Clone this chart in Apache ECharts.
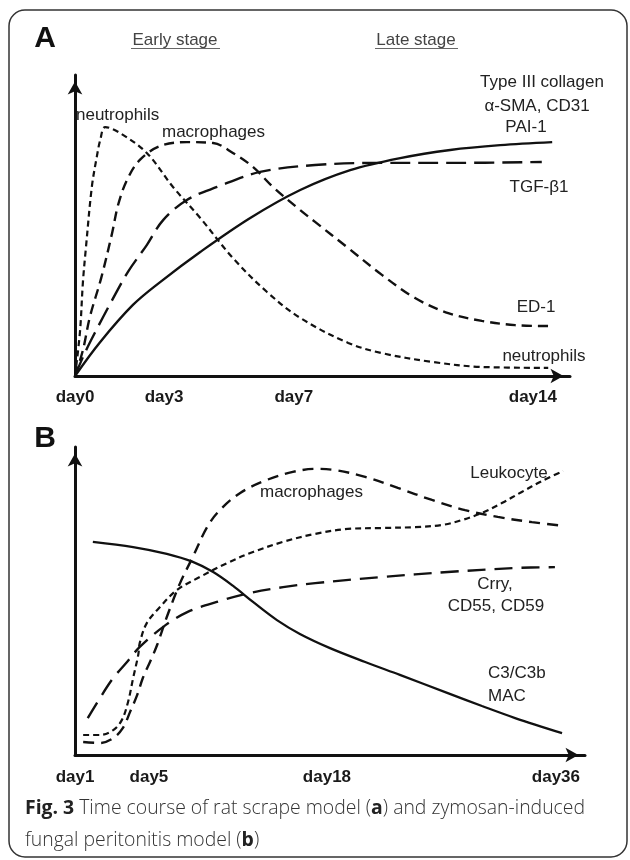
<!DOCTYPE html>
<html>
<head>
<meta charset="utf-8">
<script src="https://cdn.jsdelivr.net/npm/echarts@6/dist/echarts.min.js"></script>
<style>
  html, body { margin: 0; padding: 0; background: #fff; }
  #chart { width: 630px; height: 860px; }
</style>
</head>
<body>
<div id="chart"></div>
<script>
// ---- Panel A: rat scrape model (schematic units, x: time 0-100, y: level 0-100)
const aTickPos = [0, 18, 44.2, 92.5];
const aTickLabels = ['day0', 'day3', 'day7', 'day14'];

const aNeutrophilsX = [0, 1.0, 1.6, 2.2, 3.4, 4.4, 5.1, 6.1, 9.1, 14.5, 19.8, 25.3, 31.9, 38.8, 45.5, 55.2, 62.0, 72.1, 82.2, 95.6];
const aNeutrophilsY = [0, 14.6, 31.2, 42.5, 62.8, 72.8, 78.4, 82.7, 80.7, 74.1, 62.8, 52.5, 39.2, 27.9, 19.3, 11.0, 7.6, 4.7, 3.0, 2.7];

const aMacrophagesX = [0, 1.6, 3.0, 5.3, 7.5, 8.7, 10.5, 13.1, 17.2, 22.6, 27.9, 31.9, 36.0, 40.0, 45.5, 48.5, 55.2, 62.0, 68.7, 75.4, 82.2, 88.9, 95.6];
const aMacrophagesY = [0, 8.6, 19.6, 32.6, 47.5, 56.8, 65.1, 71.8, 76.4, 77.7, 77.4, 74.1, 69.4, 62.8, 55.1, 51.2, 42.5, 33.6, 25.9, 20.9, 18.3, 16.9, 16.6];

const aTgfX = [0, 1.8, 4.0, 7.5, 10.7, 14.5, 17.8, 22.6, 28.7, 37.4, 48.5, 62.0, 75.4, 94.3];
const aTgfY = [0, 7.0, 14.3, 25.2, 34.6, 43.5, 51.8, 58.5, 62.8, 67.8, 70.1, 70.8, 70.8, 71.1];

const aCollagenX = [0, 5.1, 11.7, 17.2, 25.3, 35.4, 45.5, 55.6, 65.7, 75.8, 85.9, 96.4];
const aCollagenY = [0, 11.3, 23.6, 31.2, 41.2, 52.5, 61.8, 68.4, 72.4, 75.1, 76.7, 77.7];

// ---- Panel B: zymosan-induced fungal peritonitis model
const bTickPos = [0, 14.5, 49.4, 94.3];
const bTickLabels = ['day1', 'day5', 'day18', 'day36'];

const bC3X = [3.5, 11.4, 18.0, 23.1, 27.1, 31.0, 34.9, 39.6, 44.1, 50.0, 56.9, 63.7, 73.1, 79.8, 86.3, 95.5];
const bC3Y = [69.2, 67.5, 65.3, 62.7, 59.4, 54.9, 49.7, 43.8, 39.3, 34.7, 30.2, 26.0, 20.1, 15.9, 12.0, 7.1];

const bMacrophagesX = [1.6, 4.9, 7.5, 9.4, 10.8, 12.2, 13.3, 14.7, 16.1, 18.0, 20.6, 23.1, 25.9, 28.4, 32.4, 37.6, 42.7, 47.1, 51.0, 56.9, 63.3, 70.0, 76.5, 82.9, 89.6, 95.7];
const bMacrophagesY = [4.2, 3.9, 5.5, 8.8, 14.0, 19.5, 25.0, 30.2, 35.7, 44.8, 55.8, 64.3, 74.0, 79.5, 85.1, 89.3, 91.9, 92.9, 92.5, 90.3, 86.7, 82.8, 79.5, 77.3, 75.6, 74.4];

const bLeukocyteX = [1.6, 4.9, 7.5, 9.2, 10.4, 11.4, 12.4, 12.7, 14.1, 16.7, 20.0, 24.5, 29.8, 34.9, 40.8, 47.1, 53.5, 60.2, 66.7, 72.0, 75.9, 79.8, 83.7, 87.6, 91.6, 95.7];
const bLeukocyteY = [6.5, 6.5, 8.1, 11.4, 17.2, 25.0, 32.5, 36.4, 42.9, 48.1, 53.6, 57.8, 62.3, 65.9, 69.2, 71.8, 73.4, 73.7, 74.0, 74.7, 76.3, 78.6, 81.8, 85.4, 89.0, 92.2];

const bCrryX = [2.5, 4.9, 7.5, 10.2, 12.7, 17.3, 22.0, 27.8, 34.3, 40.8, 47.1, 60.2, 73.1, 86.3, 94.1];
const bCrryY = [12.0, 18.5, 25.0, 30.2, 35.1, 41.6, 46.4, 49.7, 52.6, 54.5, 55.8, 57.8, 59.4, 60.7, 61.0];

const zip = (xs, ys) => xs.map((x, i) => [x, ys[i]]);

const chart = echarts.init(document.getElementById('chart'));

const labelFont = '17px "Liberation Sans", Arial, sans-serif';
const ink = '#111';

function xAxisFor(idx, pos, labels, margin) {
  return {
    type: 'value', gridIndex: idx, min: 0, max: 100,
    axisLine: {
      onZero: false,
      lineStyle: { color: ink, width: 3 },
      symbol: ['none', 'arrow'], symbolSize: [11, 13], symbolOffset: [0, -6.5]
    },
    axisTick: { show: false },
    splitLine: { show: false },
    axisLabel: {
      customValues: pos,
      formatter: v => labels[pos.indexOf(v)] || '',
      fontFamily: '"Liberation Sans", Arial, sans-serif',
      fontWeight: 'bold', fontSize: 17, color: '#1a1a1a', margin: margin
    }
  };
}

function yAxisFor(idx) {
  return {
    type: 'value', gridIndex: idx, min: 0, max: 100,
    axisLine: {
      show: true,
      lineStyle: { color: ink, width: 3 },
      symbol: ['none', 'arrow'], symbolSize: [11, 13], symbolOffset: [0, -6.5]
    },
    axisTick: { show: false },
    axisLabel: { show: false },
    splitLine: { show: false }
  };
}

function curve(name, data, idx, dash, width) {
  return {
    name: name, type: 'line', xAxisIndex: idx, yAxisIndex: idx,
    data: data, showSymbol: false, smooth: 0.35,
    silent: true,
    lineStyle: { color: ink, width: width || 2.4, type: dash, cap: 'butt' }
  };
}

function txt(x, y, text, align, extra) {
  return {
    type: 'text', x: x, y: y, silent: true,
    style: Object.assign({
      text: text, font: labelFont, fill: '#222',
      align: align || 'center', textAlign: align || 'center',
      verticalAlign: 'middle', textVerticalAlign: 'middle'
    }, extra || {})
  };
}

const capStyle = {
  font: '300 19.4px "Open Sans", sans-serif', fill: '#333',
  rich: { b: { fontFamily: '"Open Sans", sans-serif', fontWeight: 'bold', fontSize: 19.4, fill: '#222' } }
};

chart.setOption({
  animation: false,
  backgroundColor: '#fff',
  grid: [
    { left: 75, top: 75, width: 495, height: 301 },
    { left: 75, top: 447, width: 510, height: 308 }
  ],
  xAxis: [xAxisFor(0, aTickPos, aTickLabels, 13), xAxisFor(1, bTickPos, bTickLabels, 14)],
  yAxis: [yAxisFor(0), yAxisFor(1)],
  series: [
    curve('neutrophils', zip(aNeutrophilsX, aNeutrophilsY), 0, [6, 4], 2.2),
    curve('ED-1', zip(aMacrophagesX, aMacrophagesY), 0, [10, 6], 2.4),
    curve('TGF-β1', zip(aTgfX, aTgfY), 0, [20, 8], 2.4),
    curve('Type III collagen', zip(aCollagenX, aCollagenY), 0, 'solid', 2.4),
    curve('C3/C3b MAC', zip(bC3X, bC3Y), 1, 'solid', 2.3),
    curve('macrophages', zip(bMacrophagesX, bMacrophagesY), 1, [11, 7], 2.4),
    curve('Leukocyte', zip(bLeukocyteX, bLeukocyteY), 1, [6, 4], 2.2),
    curve('Crry', zip(bCrryX, bCrryY), 1, [18, 9], 2.4)
  ],
  graphic: [
    // frame
    { type: 'rect', silent: true, shape: { x: 9, y: 10, width: 618, height: 847, r: 16 },
      style: { fill: 'none', stroke: '#333', lineWidth: 1.5 } },
    // panel letters
    txt(45, 39, 'A', 'center', { font: 'bold 30px "Liberation Sans", Arial, sans-serif', fill: '#111' }),
    txt(45, 439, 'B', 'center', { font: 'bold 30px "Liberation Sans", Arial, sans-serif', fill: '#111' }),
    // stage headers
    txt(175, 40, 'Early stage', 'center', { fill: '#444' }),
    { type: 'line', silent: true, shape: { x1: 131, y1: 48.5, x2: 220, y2: 48.5 }, style: { stroke: '#666', lineWidth: 1 } },
    txt(416, 40, 'Late stage', 'center', { fill: '#444' }),
    { type: 'line', silent: true, shape: { x1: 375, y1: 48.5, x2: 458, y2: 48.5 }, style: { stroke: '#666', lineWidth: 1 } },
    // panel A annotations
    txt(76, 115, 'neutrophils', 'left'),
    txt(162, 132, 'macrophages', 'left'),
    txt(542, 82, 'Type III collagen'),
    txt(537, 106, 'α-SMA, CD31'),
    txt(526, 127, 'PAI-1'),
    txt(539, 187, 'TGF-β1'),
    txt(536, 307, 'ED-1'),
    txt(544, 356, 'neutrophils'),
    // panel B annotations
    txt(260, 492, 'macrophages', 'left'),
    txt(509, 473, 'Leukocyte'),
    txt(495, 584, 'Crry,'),
    txt(496, 606, 'CD55, CD59'),
    txt(488, 673, 'C3/C3b', 'left'),
    txt(488, 696, 'MAC', 'left'),
    // caption
    txt(25, 808, '{b|Fig. 3} Time course of rat scrape model ({b|a}) and zymosan-induced', 'left', capStyle),
    txt(25, 840, 'fungal peritonitis model ({b|b})', 'left', capStyle)
  ]
});
</script>
</body>
</html>
